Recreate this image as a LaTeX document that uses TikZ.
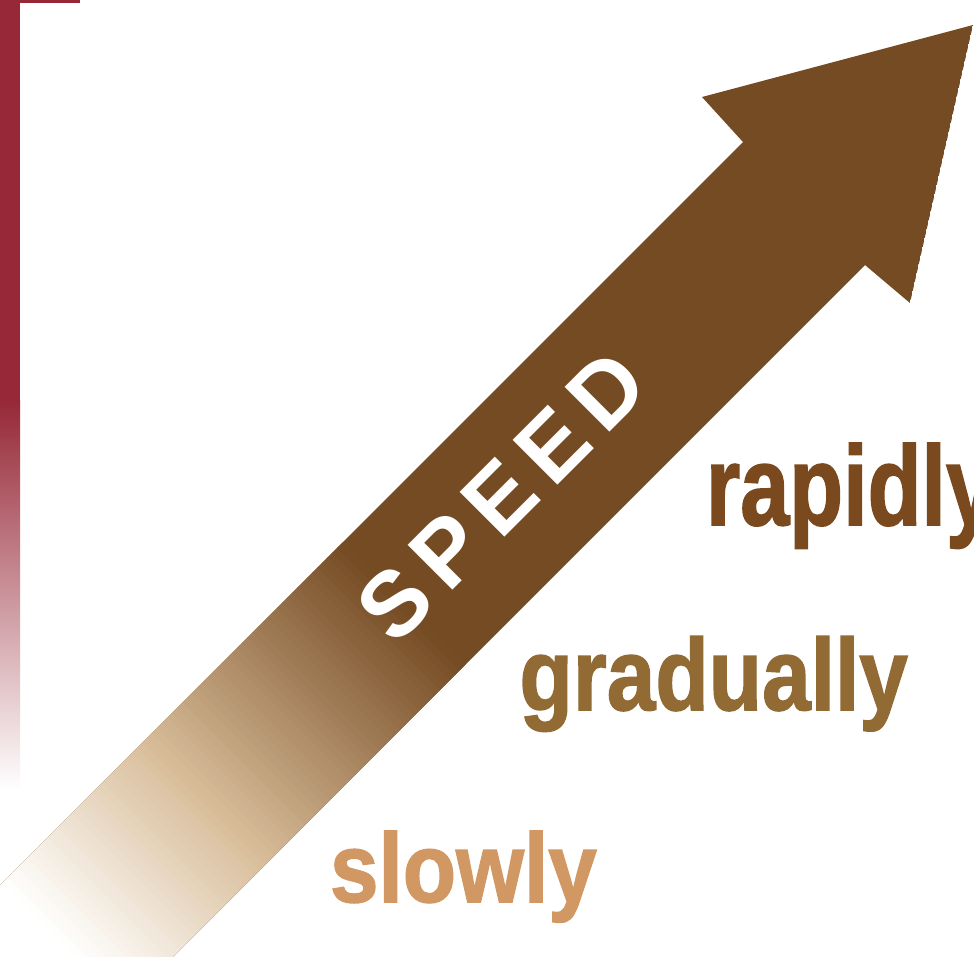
\documentclass[tikz,border=0pt]{standalone}
\usepackage{fontspec}
\setmainfont{Liberation Sans}
\definecolor{arrowbrown}{RGB}{117,75,35}
\definecolor{tanc}{RGB}{217,190,155}
\definecolor{barred}{RGB}{150,40,55}
\definecolor{rapidc}{RGB}{122,74,30}
\definecolor{gradc}{RGB}{146,106,52}
\definecolor{slowc}{RGB}{210,152,100}
\tikzset{
  word/.style={inner sep=0pt, outer sep=0pt, anchor=base west, font=\bfseries\addfontfeature{FakeBold=1.6}},
}
\begin{document}
\begin{tikzpicture}[x=0.1mm,y=-0.1mm]
\useasboundingbox (0,0) rectangle (974,956);
\fill[white] (0,0) rectangle (974,956);
\begin{scope}
\clip (0,0) rectangle (974,956);
% left bar
\fill[barred] (0,0) rectangle (20,402);
\fill[barred] (0,0) rectangle (80,3);
\shade[top color=barred, bottom color=white] (0,400) rectangle (20,790);
% arrow
\coordinate (T) at (973,25);
\coordinate (B1) at (702,97);
\coordinate (N1) at (743,142);
\coordinate (N2) at (865,265);
\coordinate (B2) at (910,303);
\coordinate (E2) at (-135,1265);
\coordinate (E1) at (-257,1142);
\begin{scope}
\clip (N1) -- (B1) -- (T) -- (B2) -- (N2) -- (E2) -- (E1) -- cycle;
\fill[arrowbrown] (N1) -- (B1) -- (T) -- (B2) -- (N2) -- (E2) -- (E1) -- cycle;
\foreach \i in {0,...,119}{
  \pgfmathsetmacro{\sa}{-1400+10*\i}
  \pgfmathsetmacro{\sb}{\sa+11}
  \pgfmathsetmacro{\sm}{\sa+5}
  \pgfmathsetmacro{\pa}{max(0,min(100,(\sm+880)/280*100))}
  \pgfmathsetmacro{\pb}{max(0,min(100,(\sm+600)/400*100))}
  \colorlet{stripa}{tanc!\pa!white}
  \colorlet{stripb}{arrowbrown!\pb!stripa}
  \fill[stripb] ({(\sa+600)/2},{(600-\sa)/2}) -- ({(\sb+600)/2},{(600-\sb)/2})
     -- ({(\sb+1400)/2},{(1400-\sb)/2}) -- ({(\sa+1400)/2},{(1400-\sa)/2}) -- cycle;
}
\end{scope}
\end{scope}
% SPEED label
\node[inner sep=0pt, rotate=45, text=white, font=\bfseries\fontsize{26.2}{26.2}\selectfont\addfontfeature{LetterSpace=14}] (speed) at (502,496) {SPEED};
% words
\node[word, text=rapidc] (rapidly) at (706,525) {\scalebox{0.78}[1]{\fontsize{32.15}{32.15}\selectfont rapidly}};
\node[word, text=gradc] (gradually) at (519.5,710) {\scalebox{0.857}[1]{\fontsize{29}{29}\selectfont gradually}};
\node[word, text=slowc] (slowly) at (330,902) {\scalebox{0.89}[1]{\fontsize{27.9}{27.9}\selectfont slowly}};
\end{tikzpicture}
\end{document}
